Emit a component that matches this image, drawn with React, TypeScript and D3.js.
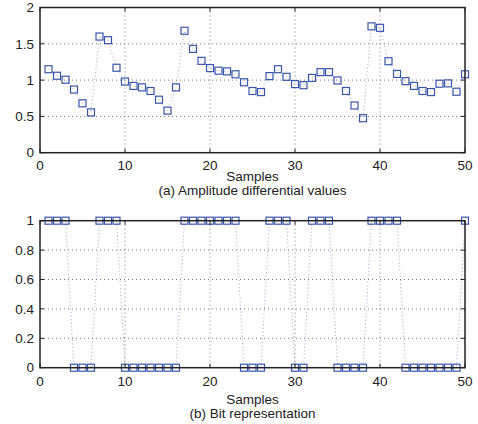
import React from "react";
import * as d3 from "d3";

// samples 1..50
const samples = d3.range(1, 51);

const amplitude = [
  1.15, 1.06, 1.005, 0.87, 0.68, 0.555, 1.6, 1.55, 1.17, 0.98,
  0.92, 0.9, 0.85, 0.73, 0.58, 0.9, 1.68, 1.43, 1.265, 1.165,
  1.13, 1.12, 1.08, 0.97, 0.85, 0.835, 1.055, 1.15, 1.045, 0.945,
  0.93, 1.03, 1.11, 1.11, 0.995, 0.85, 0.65, 0.475, 1.74, 1.72,
  1.26, 1.085, 0.985, 0.92, 0.85, 0.835, 0.95, 0.955, 0.84, 1.08,
];

const bits = [
  1, 1, 1, 0, 0, 0, 1, 1, 1, 0,
  0, 0, 0, 0, 0, 0, 1, 1, 1, 1,
  1, 1, 1, 0, 0, 0, 1, 1, 1, 0,
  0, 1, 1, 1, 0, 0, 0, 0, 1, 1,
  1, 1, 0, 0, 0, 0, 0, 0, 0, 1,
];

const xTicks = [0, 10, 20, 30, 40, 50];
const yTicksA = [0, 0.5, 1, 1.5, 2];
const yTicksB = [0, 0.2, 0.4, 0.6, 0.8, 1];

const blue = "#3b56a8";
const font = "'Liberation Sans', Arial, sans-serif";
const fs = 13.5;

type PanelProps = {
  values: number[];
  yDomain: [number, number];
  yTicks: number[];
  top: number;
  bottom: number;
  tickOffset: number;
  labelY: number;
  captionY: number;
  caption: string;
};

function Panel({ values, yDomain, yTicks, top, bottom, tickOffset, labelY, captionY, caption }: PanelProps) {
  const left = 40;
  const right = 465;
  const x = d3.scaleLinear().domain([0, 50]).range([left, right]);
  const y = d3.scaleLinear().domain(yDomain).range([bottom, top]);

  const line = d3
    .line<number>()
    .x((d, i) => x(samples[i]))
    .y((d) => y(d));

  const ms = 7;

  return (
    <g>
      {/* grid */}
      {xTicks.slice(1, -1).map((t) => (
        <line key={"gx" + t} x1={x(t)} x2={x(t)} y1={top} y2={bottom}
          stroke="#555" strokeWidth={0.8} strokeDasharray="1,3" />
      ))}
      {yTicks.slice(1, -1).map((t) => (
        <line key={"gy" + t} x1={left} x2={right} y1={y(t)} y2={y(t)}
          stroke="#555" strokeWidth={0.8} strokeDasharray="1,3" />
      ))}

      {/* data */}
      <path d={line(values) || ""} fill="none" stroke={blue} strokeWidth={0.7}
        strokeDasharray="1,2.5" opacity={0.75} />
      {values.map((v, i) => (
        <rect key={i} x={x(samples[i]) - ms / 2} y={y(v) - ms / 2} width={ms} height={ms}
          fill="none" stroke={blue} strokeWidth={1.2} />
      ))}

      {/* ticks */}
      {xTicks.map((t) => (
        <g key={"tx" + t}>
          <line x1={x(t)} x2={x(t)} y1={bottom} y2={bottom - 4} stroke="#222" />
          <line x1={x(t)} x2={x(t)} y1={top} y2={top + 4} stroke="#222" />
          <text x={x(t)} y={bottom + tickOffset} textAnchor="middle" fontSize={fs}
            fontFamily={font} fill="#222">{t}</text>
        </g>
      ))}
      {yTicks.map((t) => (
        <g key={"ty" + t}>
          <line x1={left} x2={left + 4} y1={y(t)} y2={y(t)} stroke="#222" />
          <line x1={right} x2={right - 4} y1={y(t)} y2={y(t)} stroke="#222" />
          <text x={34} y={y(t)} dy="0.35em" textAnchor="end" fontSize={fs}
            fontFamily={font} fill="#222">{t}</text>
        </g>
      ))}

      {/* frame */}
      <rect x={left} y={top} width={right - left} height={bottom - top}
        fill="none" stroke="#222" strokeWidth={1.5} />

      <text x={(left + right) / 2} y={labelY} textAnchor="middle" fontSize={fs}
        fontFamily={font} fill="#222">Samples</text>
      <text x={(left + right) / 2} y={captionY} textAnchor="middle" fontSize={fs}
        fontFamily={font} fill="#222">{caption}</text>
    </g>
  );
}

export default function App() {
  return (
    <svg width={478} height={424} style={{ position: "absolute", left: 0, top: 0, background: "#fff" }}>
      <Panel values={amplitude} yDomain={[0, 2]} yTicks={yTicksA} top={7.5} bottom={152.7}
        tickOffset={17} labelY={181} captionY={194.5}
        caption="(a) Amplitude differential values" />
      <Panel values={bits} yDomain={[0, 1]} yTicks={yTicksB} top={220.7} bottom={367.7}
        tickOffset={18.5} labelY={403.5} captionY={417.5}
        caption="(b) Bit representation" />
    </svg>
  );
}
